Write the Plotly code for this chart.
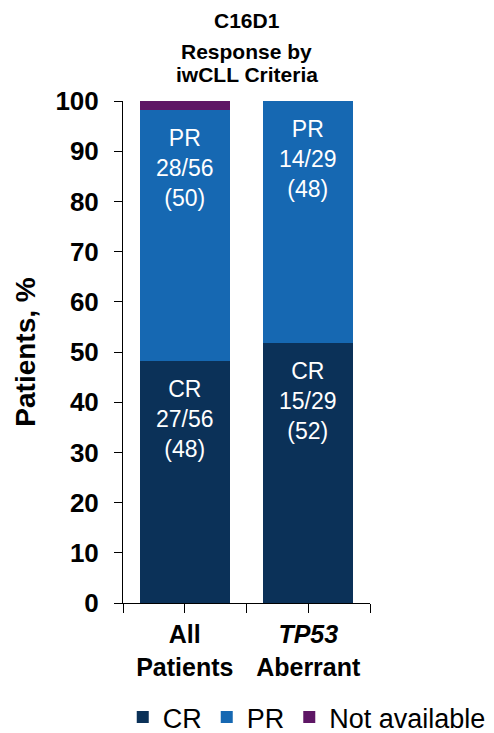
import plotly.graph_objects as go

categories = ["All<br>Patients", "<i>TP53</i><br>Aberrant"]
series_names = ["CR", "PR", "Not available"]
cr_pct = [48.2, 51.7]
pr_pct = [50.0, 48.3]
na_pct = [1.8, 0.0]
cr_labels = ["CR<br>27/56<br>(48)", "CR<br>15/29<br>(52)"]
pr_labels = ["PR<br>28/56<br>(50)", "PR<br>14/29<br>(48)"]
y_ticks = [0, 10, 20, 30, 40, 50, 60, 70, 80, 90, 100]
title_lines = ["C16D1", "Response by", "iwCLL Criteria"]

colors = {"CR": "#0B3158", "PR": "#1668B2", "Not available": "#5E1665"}
FONT = "Arial, Liberation Sans, sans-serif"

x = list(range(len(categories)))
fig = go.Figure()
for name, vals in zip(series_names, [cr_pct, pr_pct, na_pct]):
    fig.add_trace(go.Bar(
        x=x, y=vals, name=name, width=0.73,
        marker=dict(color=colors[name], line=dict(width=0)),
        hoverinfo="skip",
    ))

annotations = []
offset = 11.5
for i in x:
    cr_top = cr_pct[i]
    pr_top = cr_pct[i] + pr_pct[i]
    for top, txt in [(cr_top, cr_labels[i]), (pr_top, pr_labels[i])]:
        annotations.append(dict(
            x=i, y=top - offset, xref="x", yref="y", text=txt, showarrow=False,
            font=dict(family=FONT, size=23, color="white"), align="center",
            xanchor="center", yanchor="middle"))

title_y = [1.160, 1.098, 1.052]
for line, yy in zip(title_lines, title_y):
    annotations.append(dict(
        x=0.5, y=yy, xref="paper", yref="paper", text=line, showarrow=False,
        font=dict(family=FONT, size=21, color="black", weight="bold"),
        xanchor="center", yanchor="middle"))

fig.update_layout(
    width=494, height=733,
    margin=dict(l=123, r=124, t=101, b=130, autoexpand=False),
    paper_bgcolor="white", plot_bgcolor="white",
    barmode="stack", bargap=0,
    font=dict(family=FONT, color="black"),
    showlegend=True,
    legend=dict(orientation="h", xref="paper", yref="paper",
                x=-0.001, y=-0.228, xanchor="left", yanchor="middle",
                bgcolor="rgba(0,0,0,0)",
                font=dict(family=FONT, size=27, color="black"),
                traceorder="normal", itemclick=False, itemdoubleclick=False),
    annotations=annotations,
)
fig.update_xaxes(
    range=[-0.5, 1.5], tickvals=x, ticktext=categories,
    ticks="outside", ticklen=9, tickcolor="black", tickwidth=1,
    showline=True, linecolor="black", linewidth=1, showgrid=False, zeroline=False,
    tickfont=dict(family=FONT, size=25, color="black", weight="bold"),
    minor=dict(tickvals=[-0.5, 0.5, 1.5], ticks="outside", ticklen=9, tickcolor="black", tickwidth=1),
    fixedrange=True,
)
fig.update_yaxes(
    range=[0, 100], tickvals=y_ticks,
    ticks="outside", ticklen=8, tickcolor="black", tickwidth=1,
    showline=True, linecolor="black", linewidth=1, showgrid=False, zeroline=False,
    tickfont=dict(family=FONT, size=26, color="black", weight="bold"),
    ticklabelstandoff=10,
    title=dict(text="Patients, %", font=dict(family=FONT, size=28, color="black", weight="bold"), standoff=11),
    fixedrange=True,
)

fig.write_html("out.html", config={"displayModeBar": False})
